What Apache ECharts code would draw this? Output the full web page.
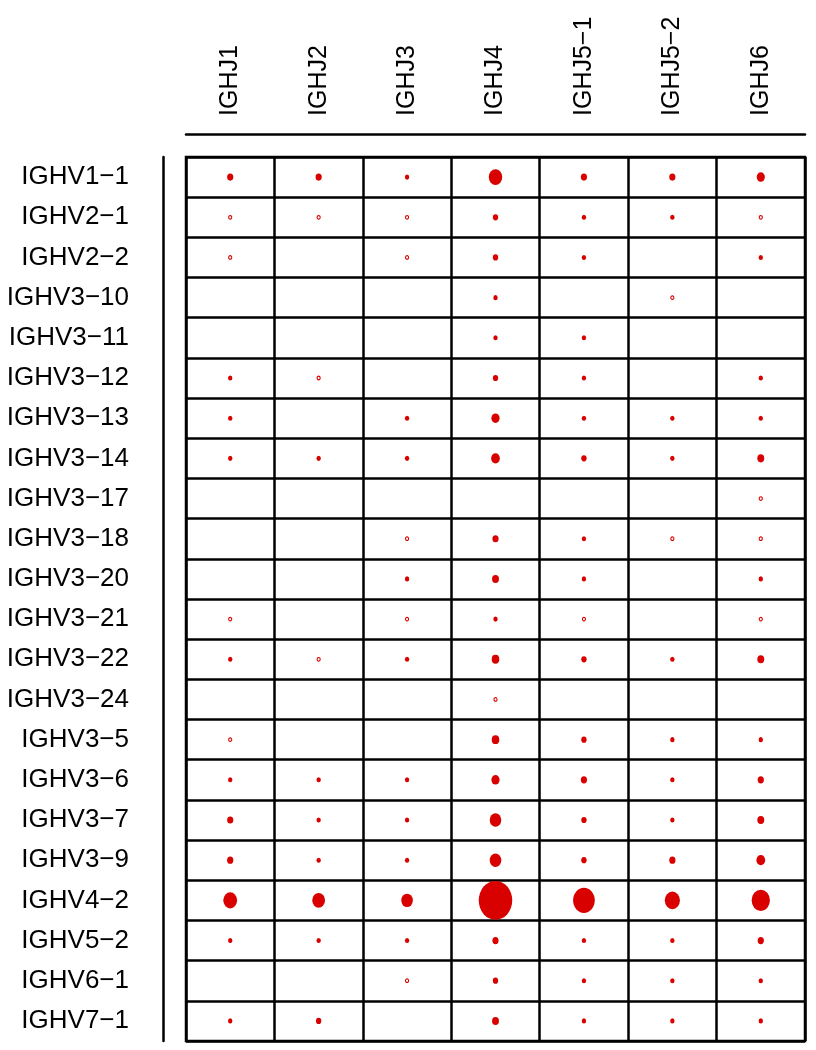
<!DOCTYPE html>
<html>
<head>
<meta charset="utf-8">
<script src="https://cdn.jsdelivr.net/npm/echarts@6/dist/echarts.min.js"></script>
<style>
  html, body { margin: 0; padding: 0; background: #fff; }
  #chart { width: 816px; height: 1050px; }
</style>
</head>
<body>
<div id="chart"></div>
<script>
// J genes (columns) and V genes (rows)
const jGenes = ['IGHJ1', 'IGHJ2', 'IGHJ3', 'IGHJ4', 'IGHJ5−1', 'IGHJ5−2', 'IGHJ6']
const vGenes = [
  'IGHV1−1', 'IGHV2−1', 'IGHV2−2', 'IGHV3−10', 'IGHV3−11', 'IGHV3−12',
  'IGHV3−13', 'IGHV3−14', 'IGHV3−17', 'IGHV3−18', 'IGHV3−20', 'IGHV3−21',
  'IGHV3−22', 'IGHV3−24', 'IGHV3−5', 'IGHV3−6', 'IGHV3−7', 'IGHV3−9',
  'IGHV4−2', 'IGHV5−2', 'IGHV6−1', 'IGHV7−1'
]
// counts per V gene, one entry per J gene (0 = no dot)
const counts = [
  [4, 4, 2, 19, 4, 4, 7],
  [1, 1, 1, 3, 2, 2, 1],
  [1, 0, 1, 3, 2, 0, 2],
  [0, 0, 0, 2, 0, 1, 0],
  [0, 0, 0, 2, 2, 0, 0],
  [2, 1, 0, 3, 2, 0, 2],
  [2, 0, 2, 7, 2, 2, 2],
  [2, 2, 2, 8, 3, 2, 5],
  [0, 0, 0, 0, 0, 0, 1],
  [0, 0, 1, 4, 2, 1, 1],
  [0, 0, 2, 5, 2, 0, 2],
  [1, 0, 1, 2, 1, 0, 1],
  [2, 1, 2, 6, 3, 2, 5],
  [0, 0, 0, 1, 0, 0, 0],
  [1, 0, 0, 6, 3, 2, 2],
  [2, 2, 2, 7, 4, 2, 4],
  [4, 2, 2, 14, 3, 2, 5],
  [4, 2, 2, 14, 3, 4, 8],
  [20, 17, 14, 117, 49, 24, 35],
  [2, 2, 2, 4, 2, 2, 4],
  [0, 0, 1, 3, 2, 2, 2],
  [2, 3, 0, 5, 2, 2, 2]
]

const red = '#d90000'
const font = 'Liberation Sans, Arial, Helvetica, sans-serif'

const points = []
counts.forEach(function (row, r) {
  row.forEach(function (v, c) {
    if (!v) return
    const item = { value: [c, r, v] }
    // single counts drawn as small rings
    if (v === 1) item.itemStyle = { color: '#fff', borderColor: red, borderWidth: 1.1 }
    points.push(item)
  })
})

const chart = echarts.init(document.getElementById('chart'))
const option = {
  animation: false,
  backgroundColor: '#fff',
  grid: {
    left: 186,
    right: 11,
    top: 157,
    bottom: 9,
    show: true,
    borderColor: '#000',
    borderWidth: 2.5
  },
  xAxis: {
    type: 'category',
    data: jGenes,
    position: 'top',
    offset: 23,
    axisLine: { show: true, lineStyle: { color: '#000', width: 2.5 } },
    axisTick: { show: false },
    axisLabel: {
      rotate: -90,
      margin: 18,
      color: '#000',
      fontSize: 25,
      fontFamily: font
    },
    splitLine: { show: true, interval: 0, lineStyle: { color: '#000', width: 2.5 } }
  },
  yAxis: {
    type: 'category',
    data: vGenes,
    inverse: true,
    position: 'left',
    offset: 23,
    axisLine: { show: true, lineStyle: { color: '#000', width: 2.5 } },
    axisTick: { show: false },
    axisLabel: {
      margin: 34,
      color: '#000',
      fontSize: 26,
      fontFamily: font
    },
    splitLine: { show: true, interval: 0, lineStyle: { color: '#000', width: 2.5 } }
  },
  series: [
    {
      type: 'scatter',
      data: points,
      symbol: 'circle',
      symbolSize: function (val) {
        const h = 3.6 * Math.sqrt(val[2])
        return [h * 0.86, h]
      },
      itemStyle: { color: red, opacity: 1 },
      emphasis: { disabled: true }
    }
  ]
}
chart.setOption(option)
</script>
</body>
</html>
